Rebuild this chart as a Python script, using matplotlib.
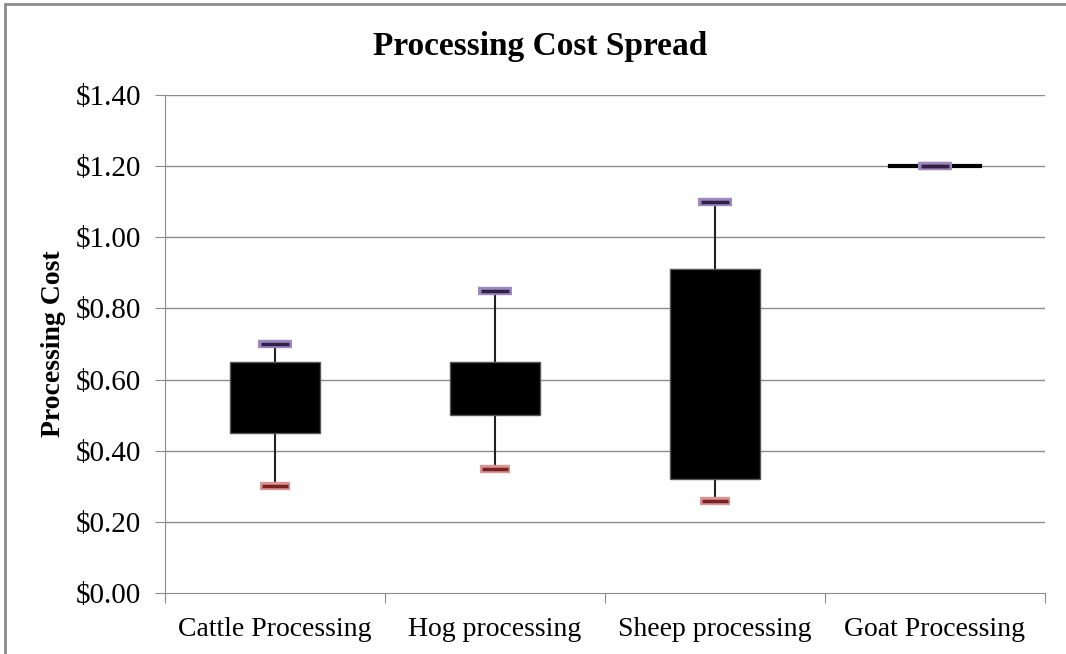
import matplotlib
matplotlib.use("Agg")
import matplotlib.pyplot as plt
from matplotlib.patches import Rectangle

categories = ["Cattle Processing", "Hog processing", "Sheep processing", "Goat Processing"]
q1 = [0.45, 0.50, 0.32, 1.20]
q3 = [0.65, 0.65, 0.91, 1.20]
high = [0.70, 0.85, 1.10, 1.20]
low = [0.30, 0.35, 0.26, 1.20]
yticks = [0.0, 0.2, 0.4, 0.6, 0.8, 1.0, 1.2, 1.4]
ytick_labels = ["$0.00", "$0.20", "$0.40", "$0.60", "$0.80", "$1.00", "$1.20", "$1.40"]

plt.rcParams['font.family'] = ['Liberation Serif', 'DejaVu Serif']

fig = plt.figure(figsize=(10.66, 6.54), dpi=100)
W, H = 1066, 654
ax = fig.add_axes([165 / W, 1 - 593 / H, (1045 - 165) / W, (593 - 95) / H])

# figure frame
fig.patches.append(Rectangle((5 / W, -0.1), 1.2, 1 - 4 / H + 0.1, transform=fig.transFigure,
                             fill=False, edgecolor='#8c8c8c', linewidth=2.0))

ax.set_ylim(0, 1.4)
ax.set_xlim(0, len(categories))
for y in yticks[1:]:
    ax.axhline(y, color='#8c8c8c', linewidth=1.0, zorder=0)

bw = 0.41
for i in range(len(categories)):
    cx = i + 0.5
    ax.plot([cx, cx], [low[i], q1[i]], color='#222222', linewidth=1.5, zorder=2)
    ax.plot([cx, cx], [q3[i], high[i]], color='#222222', linewidth=1.5, zorder=2)
    hgt = q3[i] - q1[i]
    if hgt > 0:
        ax.add_patch(Rectangle((cx - bw / 2, q1[i]), bw, hgt, facecolor='black',
                               edgecolor='#555555', linewidth=1.0, zorder=3))
    else:
        ax.plot([cx - bw / 2, cx + bw / 2], [q1[i], q1[i]], color='black', linewidth=3, zorder=3)
    # low marker (red)
    ax.plot([cx], [low[i]], marker='_', markersize=22, markeredgewidth=6,
            color='#d99594', zorder=4)
    ax.plot([cx], [low[i]], marker='_', markersize=19, markeredgewidth=2.5,
            color='#7a2222', zorder=5)
    # high marker (purple)
    ax.plot([cx], [high[i]], marker='_', markersize=24, markeredgewidth=6,
            color='#9d86c4', zorder=4)
    ax.plot([cx], [high[i]], marker='_', markersize=20, markeredgewidth=2.5,
            color='#2e2340', zorder=5)

ax.set_yticks(yticks)
ax.set_yticklabels(ytick_labels, fontsize=21)
ax.set_xticks([0, 1, 2, 3, 4])
ax.set_xticklabels([])
ax.set_xticks([0.5, 1.5, 2.5, 3.5], minor=True)
ax.set_xticklabels(categories, minor=True, fontsize=20)
ax.tick_params(axis='x', which='minor', length=0, pad=17)
ax.tick_params(axis='x', which='major', length=7, color='#8c8c8c', direction='out')
ax.tick_params(axis='y', length=7, color='#8c8c8c', direction='out', pad=10)

for s in ['top', 'right']:
    ax.spines[s].set_visible(False)
ax.spines['left'].set_color('#8c8c8c')
ax.spines['bottom'].set_color('#8c8c8c')

ax.set_ylabel("Processing Cost", fontsize=20, fontweight='bold')
ax.yaxis.set_label_coords((66 - 165) / 880, 0.5)
fig.text(540 / W, 1 - 46 / H, "Processing Cost Spread", fontsize=24, fontweight='bold',
         ha='center', va='center')

fig.savefig("out.png", dpi=100)
